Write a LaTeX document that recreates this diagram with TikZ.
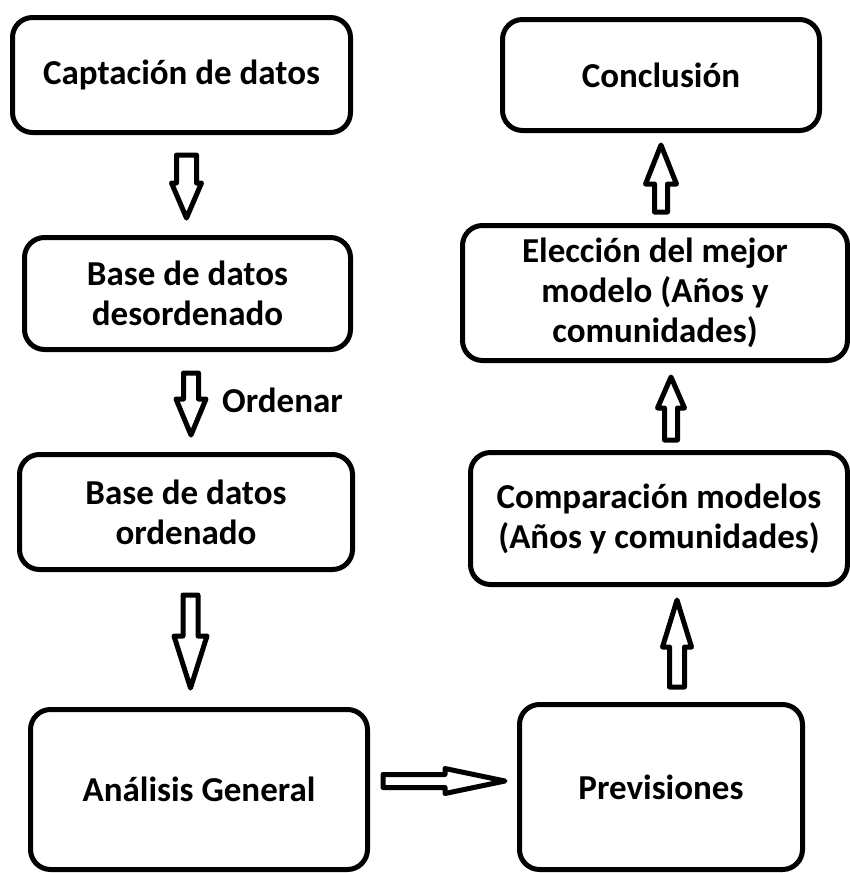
\documentclass[tikz,border=0pt]{standalone}
\usepackage{fontspec}
\setmainfont{Carlito}
\usetikzlibrary{calc}

\newcommand{\hollowarrow}[5]{%
  \coordinate (hb) at ($(#2)!#5!(#1)$);
  \draw [blockarrow] ($(#1)!#3!90:(#2)$) -- ($(hb)!#3!90:(#2)$) -- ($(hb)!#4!90:(#2)$) -- (#2)
    -- ($(hb)!#4!-90:(#2)$) -- ($(hb)!#3!-90:(#2)$) -- ($(#1)!#3!-90:(#2)$) -- cycle;
}

\begin{document}
\begin{tikzpicture}[x=1pt, y=-1pt,
    box/.style={draw, line width=5pt, rounded corners=20pt, align=center,
      font=\fontsize{35}{40}\selectfont\bfseries},
    blockarrow/.style={draw, line width=5pt, line join=round, fill=white},
    tag/.style={inner sep=0pt, font=\fontsize{35}{40}\selectfont\bfseries}]
                \useasboundingbox (0,0) rectangle (850,873);
                \node [box, minimum width=338pt, minimum height=115pt] (capt) at (181.5,75) {Captación de datos};
                \node [box, minimum width=326pt, minimum height=112pt] (desord) at (187.5,293.5) {Base de datos\\desordenado};
                \node [box, minimum width=333pt, minimum height=115pt] (orden) at (186,512) {Base de datos\\ordenado};
                \node [box, minimum width=337pt, minimum height=160pt] (anal) at (199,789.5) {Análisis General};
                \node [box, minimum width=283pt, minimum height=165pt] (prev) at (661,787) {Previsiones};
                \node [box, minimum width=377pt, minimum height=132pt] (comp) at (659,518.5) {Comparación modelos\\(Años y comunidades)};
                \node [box, minimum width=385pt, minimum height=135pt] (elec) at (655,293) {Elección del mejor\\modelo (Años y\\comunidades)};
                \node [box, minimum width=317pt, minimum height=111pt] (concl) at (661,75) {Conclusión};
                \coordinate (a1s) at ($(capt.south)+(5,20)$);
                \coordinate (a1e) at ($(desord.north)+(-1,-17)$);
                \coordinate (a2s) at ($(desord.south)+(3.5,21)$);
                \coordinate (a2e) at ($(orden.north)+(5,-17)$);
                \coordinate (a3s) at ($(orden.south)+(4.5,23)$);
                \coordinate (a3e) at ($(anal.north)+(-8.5,-19)$);
                \coordinate (a4s) at ($(anal.east)+(13,-8.5)$);
                \coordinate (a4e) at ($(prev.west)+(-12,-6)$);
                \coordinate (a5s) at ($(prev.north)+(16,-15)$);
                \coordinate (a5e) at ($(comp.south)+(18,13)$);
                \coordinate (a6s) at ($(comp.north)+(12,-10)$);
                \coordinate (a6e) at ($(elec.south)+(16,14)$);
                \coordinate (a7s) at ($(elec.north)+(6,-11)$);
                \coordinate (a7e) at ($(concl.south)+(0,12)$);
                \hollowarrow{a1s}{a1e}{10pt}{15pt}{35pt}
                \hollowarrow{a2s}{a2e}{7.5pt}{15pt}{36pt}
                \hollowarrow{a3s}{a3e}{7.5pt}{16.5pt}{52pt}
                \hollowarrow{a4s}{a4e}{6.5pt}{12.5pt}{60pt}
                \hollowarrow{a5s}{a5e}{7.5pt}{14.5pt}{47pt}
                \hollowarrow{a6s}{a6e}{6.5pt}{13.5pt}{31pt}
                \hollowarrow{a7s}{a7e}{6.5pt}{15.5pt}{39pt}
                \node [tag, anchor=west] (ordtxt) at ($(a2s)!0.5!(a2e)+(31,-4)$) {Ordenar};
\end{tikzpicture}
\end{document}
